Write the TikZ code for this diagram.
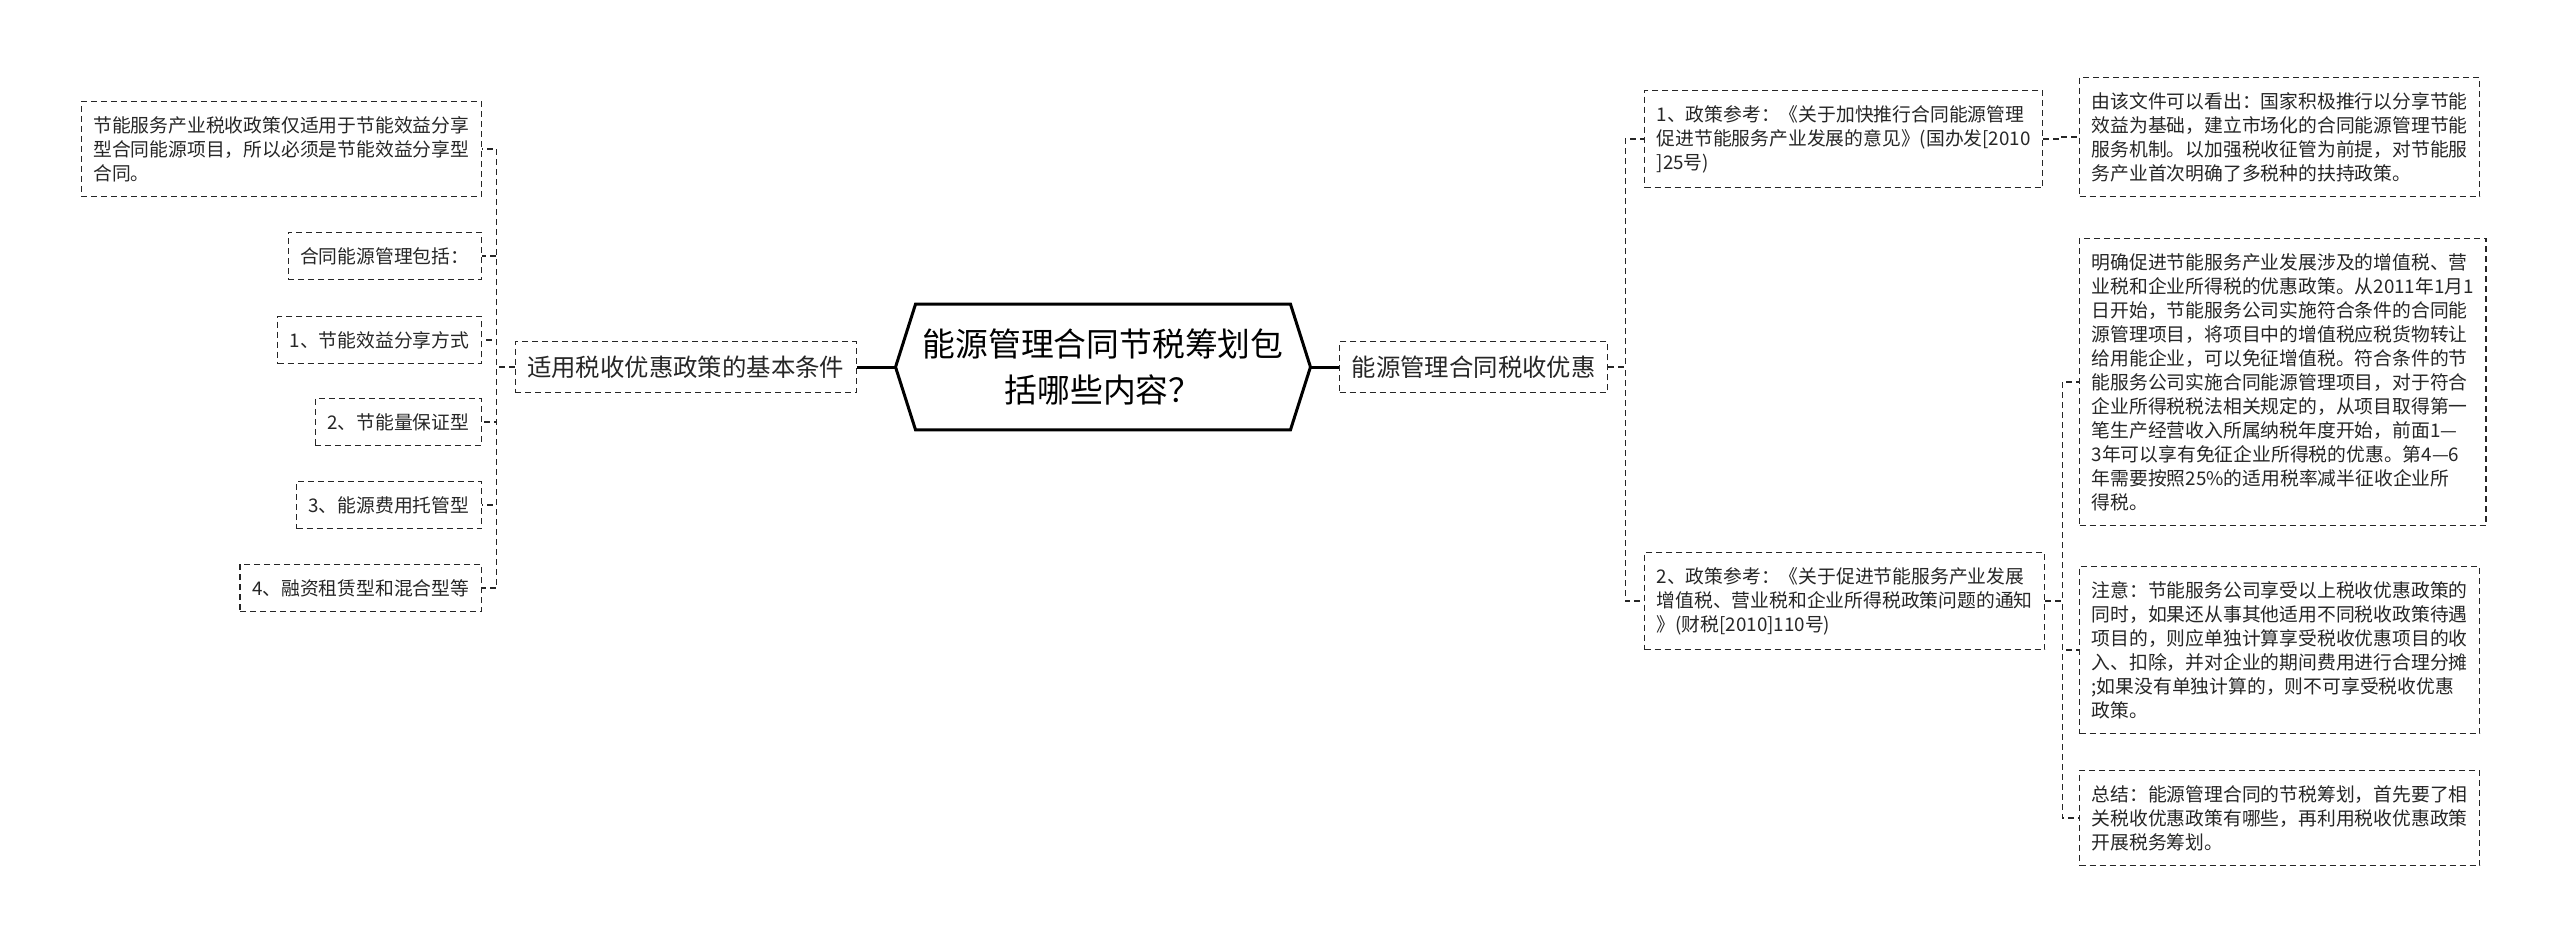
\documentclass[tikz,border=0pt]{standalone}
\usepackage{fontspec}
\setmainfont{Noto Sans CJK SC}
\usetikzlibrary{positioning}

\begin{document}
\begin{tikzpicture}[
    x=0.5pt, y=-0.5pt,
    leafbox/.style={
        draw=black!85,
        line width=0.65pt,
        dash pattern=on 3pt off 2pt,
        align=left,
        inner xsep=6pt,
        inner ysep=7.5pt,
        font=\fontsize{9.4}{12}\selectfont,
        text=black!85
    },
    topicbox/.style={
        leafbox,
        inner ysep=7pt,
        font=\fontsize{12.2}{14}\selectfont
    },
    rootbox/.style={
        minimum width=183pt,
        minimum height=62.5pt,
        align=center,
        font=\fontsize{16.4}{23}\selectfont
    },
    link/.style={draw=black!85, line width=0.65pt, dash pattern=on 3pt off 2pt},
    rootlink/.style={draw=black, line width=1.5pt}
]
    \useasboundingbox (0,0) rectangle (2560,947);

    % Root
    \node[rootbox] (root) at (1103,367) {能源管理合同节税筹划包\\括哪些内容？};
    \draw[line width=1.5pt] (root.north west) -- (root.north east) -- ([xshift=10pt]root.east)
        -- (root.south east) -- (root.south west) -- ([xshift=-10pt]root.west) -- cycle;

    % Left branch
    \node[topicbox, anchor=east] (basic) at (857,367) {适用税收优惠政策的基本条件};
    \node[leafbox, anchor=east] (only) at (482,149) {节能服务产业税收政策仅适用于节能效益分享\\型合同能源项目，所以必须是节能效益分享型\\合同。};
    \node[leafbox, anchor=east] (incl) at (482,256) {合同能源管理包括：};
    \node[leafbox, anchor=east] (share) at (482,340) {1、节能效益分享方式};
    \node[leafbox, anchor=east] (guar) at (482,422) {2、节能量保证型};
    \node[leafbox, anchor=east] (host) at (482,505) {3、能源费用托管型};
    \node[leafbox, anchor=east] (lease) at (482,588) {4、融资租赁型和混合型等};

    % Right branch
    \node[topicbox, anchor=west] (favor) at (1339,367) {能源管理合同税收优惠};
    \node[leafbox, anchor=west] (ref1) at (1644,139) {1、政策参考：《关于加快推行合同能源管理\\促进节能服务产业发展的意见》(国办发[2010\\]25号)};
    \node[leafbox, anchor=west] (ref2) at (1644,601) {2、政策参考：《关于促进节能服务产业发展\\增值税、营业税和企业所得税政策问题的通知\\》(财税[2010]110号)};
    \node[leafbox, anchor=west] (see) at (2079,137) {由该文件可以看出：国家积极推行以分享节能\\效益为基础，建立市场化的合同能源管理节能\\服务机制。以加强税收征管为前提，对节能服\\务产业首次明确了多税种的扶持政策。};
    \node[leafbox, anchor=west] (clear) at (2079,382) {明确促进节能服务产业发展涉及的增值税、营\\业税和企业所得税的优惠政策。从2011年1月1\\日开始，节能服务公司实施符合条件的合同能\\源管理项目，将项目中的增值税应税货物转让\\给用能企业，可以免征增值税。符合条件的节\\能服务公司实施合同能源管理项目，对于符合\\企业所得税税法相关规定的，从项目取得第一\\笔生产经营收入所属纳税年度开始，前面1—\\3年可以享有免征企业所得税的优惠。第4—6\\年需要按照25\%的适用税率减半征收企业所\\得税。};
    \node[leafbox, anchor=west] (note) at (2079,650) {注意：节能服务公司享受以上税收优惠政策的\\同时，如果还从事其他适用不同税收政策待遇\\项目的，则应单独计算享受税收优惠项目的收\\入、扣除，并对企业的期间费用进行合理分摊\\;如果没有单独计算的，则不可享受税收优惠\\政策。};
    \node[leafbox, anchor=west] (sum) at (2079,818) {总结：能源管理合同的节税筹划，首先要了相\\关税收优惠政策有哪些，再利用税收优惠政策\\开展税务筹划。};

    % Connectors
    \draw[rootlink] ([xshift=-10pt]root.west) -- (basic.east);
    \draw[rootlink] ([xshift=10pt]root.east) -- (favor.west);
    \foreach \leaf in {only, incl, share, guar, host, lease}
        \draw[link] (basic.west) -- ++(-18,0) |- (\leaf.east);
    \foreach \leaf in {ref1, ref2}
        \draw[link] (favor.east) -- ++(17,0) |- (\leaf.west);
    \draw[link] (ref1.east) -- ++(17,0) |- (see.west);
    \foreach \leaf in {clear, note, sum}
        \draw[link] (ref2.east) -- ++(17,0) |- (\leaf.west);
\end{tikzpicture}
\end{document}
